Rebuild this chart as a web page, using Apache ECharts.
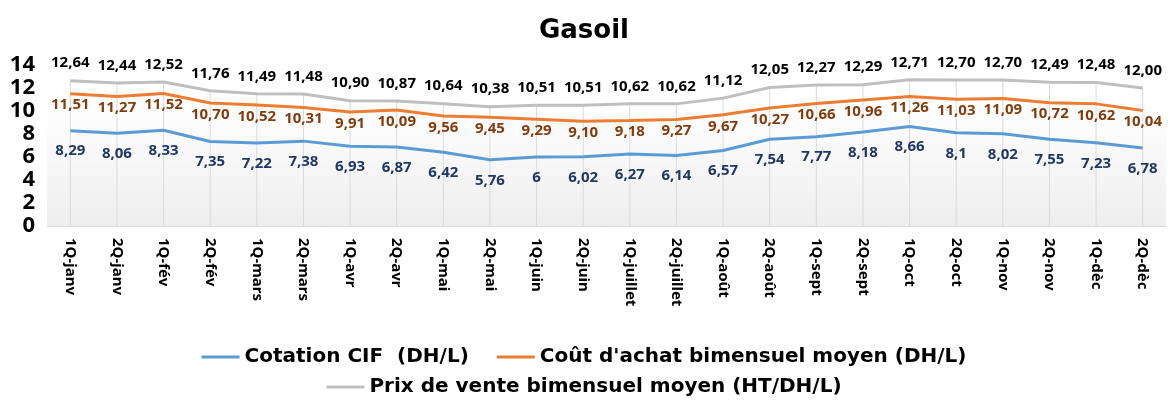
<!DOCTYPE html>
<html>
<head>
<meta charset="utf-8">
<script src="https://cdn.jsdelivr.net/npm/echarts@6/dist/echarts.min.js"></script>
<style>
    html, body { margin: 0; padding: 0; background: #fff; }
    #ecGasoil { width: 1168px; height: 400px; }
</style>
</head>
<body>
<div id="ecGasoil"></div>
<script>
var categories = ["1Q-janv", "2Q-janv", "1Q-fév", "2Q-fév", "1Q-mars", "2Q-mars", "1Q-avr", "2Q-avr",
    "1Q-mai", "2Q-mai", "1Q-juin", "2Q-juin", "1Q-juillet", "2Q-juillet", "1Q-août", "2Q-août",
    "1Q-sept", "2Q-sept", "1Q-oct", "2Q-oct", "1Q-nov", "2Q-nov", "1Q-dèc", "2Q-dèc"];
var cotationCIF = [8.29, 8.06, 8.33, 7.35, 7.22, 7.38, 6.93, 6.87, 6.42, 5.76, 6, 6.02,
    6.27, 6.14, 6.57, 7.54, 7.77, 8.18, 8.66, 8.1, 8.02, 7.55, 7.23, 6.78];
var coutAchat = [11.51, 11.27, 11.52, 10.70, 10.52, 10.31, 9.91, 10.09, 9.56, 9.45, 9.29, 9.10,
    9.18, 9.27, 9.67, 10.27, 10.66, 10.96, 11.26, 11.03, 11.09, 10.72, 10.62, 10.04];
var prixVente = [12.64, 12.44, 12.52, 11.76, 11.49, 11.48, 10.90, 10.87, 10.64, 10.38, 10.51, 10.51,
    10.62, 10.62, 11.12, 12.05, 12.27, 12.29, 12.71, 12.70, 12.70, 12.49, 12.48, 12.00];
var seriesNames = ["Cotation CIF  (DH/L)", "Coût d'achat bimensuel moyen (DH/L)", "Prix de vente bimensuel moyen (HT/DH/L)"];
var yTicks = { min: 0, max: 14, interval: 2 };

var fontLabel = "Noto Sans";

function raw(p) { return String(p.value).replace('.', ','); }
function fixed2(p) { return p.value.toFixed(2).replace('.', ','); }

function lineSerie(name, data, color, labelColor, pos, dist, fmt) {
    return {
        name: name,
        type: "line",
        data: data,
        symbol: "circle",
        symbolSize: 0,
        showSymbol: true,
        z: 3,
        lineStyle: { color: color, width: 3 },
        itemStyle: { color: color },
        label: {
            show: true,
            position: pos,
            distance: dist,
            formatter: fmt,
            fontSize: 15,
            fontWeight: "bold",
            color: labelColor,
            fontFamily: fontLabel
        }
    };
}

var legendText = { fontSize: 20, fontWeight: "bold", color: "#000", fontFamily: "DejaVu Sans" };

var chart = echarts.init(document.getElementById("ecGasoil"));
chart.setOption({
    animation: false,
    title: {
        text: "Gasoil",
        left: "center",
        top: 13,
        textStyle: { fontSize: 26, fontWeight: "bold", color: "#000", fontFamily: "DejaVu Sans" }
    },
    legend: [
        {
            data: [seriesNames[0], seriesNames[1]],
            top: 342,
            left: "center",
            itemWidth: 38,
            itemHeight: 3,
            itemGap: 28,
            icon: "rect",
            textStyle: legendText
        },
        {
            data: [seriesNames[2]],
            top: 372,
            left: "center",
            itemWidth: 38,
            itemHeight: 3,
            icon: "rect",
            textStyle: legendText
        }
    ],
    grid: {
        left: 47,
        right: 2,
        top: 65,
        height: 161,
        show: true,
        borderWidth: 0,
        backgroundColor: {
            type: "linear", x: 0, y: 0, x2: 0, y2: 1,
            colorStops: [
                { offset: 0, color: "#ffffff" },
                { offset: 0.25, color: "#ffffff" },
                { offset: 1, color: "#eeeeee" }
            ]
        }
    },
    xAxis: {
        type: "category",
        data: categories,
        boundaryGap: true,
        axisLine: { lineStyle: { color: "#d9d9d9", width: 1 } },
        axisTick: { show: false },
        splitLine: { show: false },
        axisLabel: {
            rotate: -90,
            interval: 0,
            margin: 12,
            fontSize: 15,
            fontWeight: "bold",
            color: "#000",
            fontFamily: fontLabel
        }
    },
    yAxis: {
        type: "value",
        min: yTicks.min,
        max: yTicks.max,
        interval: yTicks.interval,
        axisLine: { show: false },
        axisTick: { show: false },
        splitLine: { show: false },
        axisLabel: {
            margin: 12,
            fontSize: 22,
            fontWeight: "bold",
            color: "#000",
            fontFamily: fontLabel
        }
    },
    series: [
        {
            // lignes de rappel
            name: "drop",
            type: "bar",
            data: prixVente,
            barWidth: 1,
            silent: true,
            z: 1,
            itemStyle: { color: "#dadada" }
        },
        lineSerie(seriesNames[0], cotationCIF, "#5b9bd5", "#203864", "bottom", 13, raw),
        lineSerie(seriesNames[1], coutAchat, "#ed7d31", "#843c0c", "bottom", 4, fixed2),
        lineSerie(seriesNames[2], prixVente, "#bfbfbf", "#000", "top", 10, fixed2)
    ]
});
window.addEventListener("resize", function () { chart.resize(); });
</script>
</body>
</html>
